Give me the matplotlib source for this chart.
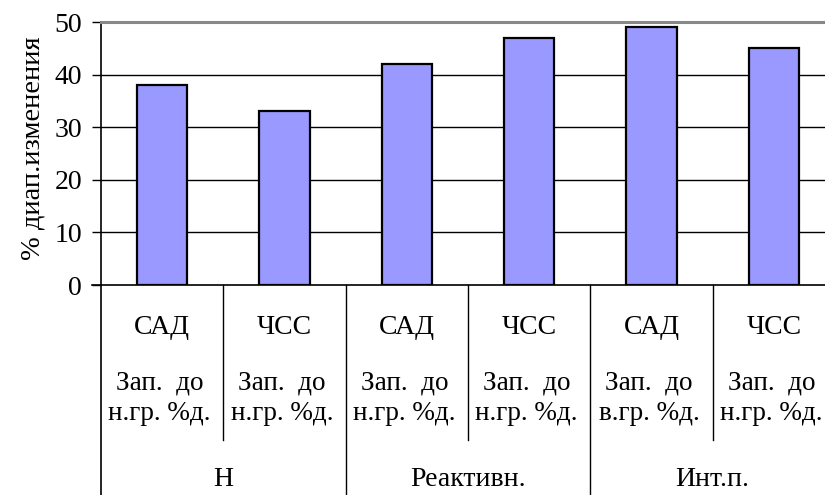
import matplotlib.pyplot as plt
from matplotlib.transforms import blended_transform_factory

plt.rcParams['font.family'] = ['Liberation Serif', 'DejaVu Serif']

# Values per bar (% range of change)
values = [38, 33, 42, 47, 49, 45]
params = ['САД', 'ЧСС', 'САД', 'ЧСС', 'САД', 'ЧСС']
notes = ['Зап.  до\nн.гр. %д.', 'Зап.  до\nн.гр. %д.', 'Зап.  до\nн.гр. %д.',
         'Зап.  до\nн.гр. %д.', 'Зап.  до\nв.гр. %д.', 'Зап.  до\nн.гр. %д.']
groups = ['Н', 'Реактивн.', 'Инт.п.']
y_ticks = [0, 10, 20, 30, 40, 50]

fig = plt.figure(figsize=(8.25, 4.95), dpi=100)
ax = fig.add_axes([0.1224, 0.4242, 0.8897, 0.5313])

x = list(range(len(values)))
ax.bar(x, values, width=0.41, color='#9999FF', edgecolor='black', linewidth=1.6, zorder=3)

ax.set_xlim(-0.5, len(values) - 0.5)
ax.set_ylim(0, 50)
ax.set_yticks(y_ticks)
ax.tick_params(axis='y', direction='out', length=6.5, width=1, labelsize=20, pad=7)
ax.set_xticks([])
for t in y_ticks[1:-1]:
    ax.axhline(t, color='black', linewidth=1, zorder=1)

for side in ['right', 'bottom']:
    ax.spines[side].set_visible(False)
ax.spines['top'].set_color('#888888')
ax.spines['top'].set_linewidth(2.2)
ax.spines['left'].set_linewidth(1.2)

fig.text(33 / 825, 1 - 148 / 495, '% диап.изменения', rotation=90,
         ha='center', va='center', fontsize=20.5)

# multi-level category axis below the plot
tr = blended_transform_factory(ax.transData, ax.transAxes)
ax.plot([-0.57, len(values) - 0.5], [0, 0], transform=tr, color='black',
        linewidth=1.2, clip_on=False, zorder=4)
ax.plot([-0.5, -0.5], [0, -0.82], transform=tr, color='black', linewidth=1.2, clip_on=False)
for i in range(1, len(values)):
    bottom = -0.82 if i % 2 == 0 else -0.59
    ax.plot([i - 0.5, i - 0.5], [0, bottom], transform=tr, color='black',
            linewidth=1, clip_on=False)

for i in x:
    ax.text(i, -0.16, params[i], transform=tr, ha='center', va='center', fontsize=20)
    ax.text(i - 0.02, -0.43, notes[i], transform=tr, ha='center', va='center', fontsize=19.5,
            linespacing=1.3, multialignment='center')
for g, name in enumerate(groups):
    ax.text(2 * g + 0.5, -0.74, name, transform=tr, ha='center', va='center', fontsize=20)

fig.savefig('out.png', dpi=100)
